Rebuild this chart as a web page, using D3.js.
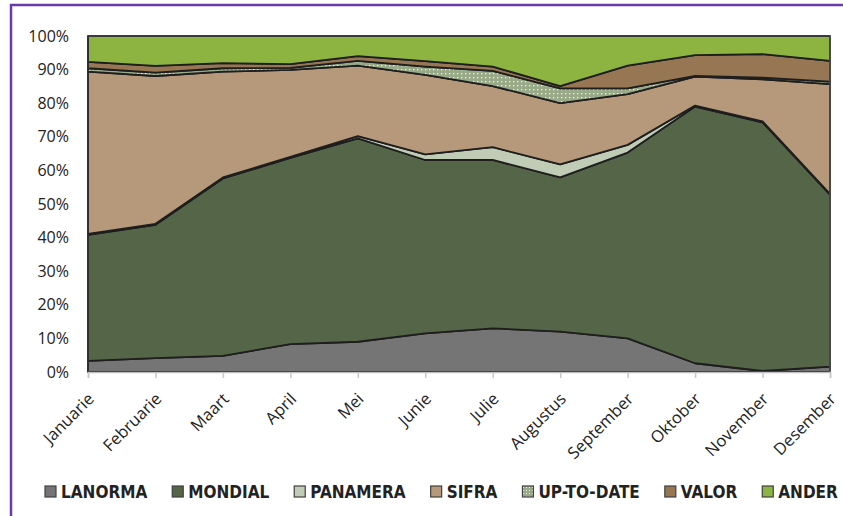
<!DOCTYPE html>
<html><head><meta charset="utf-8">
<script src="https://cdn.jsdelivr.net/npm/d3@7"></script>
<style>
body{margin:0;background:#fff;}
svg{display:block;}
</style></head>
<body>
<svg id="chart" width="843" height="516"></svg>
<script>
const months = ["Januarie","Februarie","Maart","April","Mei","Junie","Julie","Augustus","September","Oktober","November","Desember"];
const seriesNames = ["LANORMA","MONDIAL","PANAMERA","SIFRA","UP-TO-DATE","VALOR","ANDER"];
const lanorma  = [3.3, 4.1, 4.8, 8.3, 9.0, 11.5, 13.0, 12.0, 10.0, 2.6, 0.3, 1.6];
const mondial  = [37.5, 39.7, 52.8, 55.4, 60.5, 51.6, 50.1, 45.9, 55.3, 76.4, 74.0, 51.2];
const panamera = [0.3, 0.3, 0.3, 0.3, 0.7, 1.7, 3.8, 3.9, 2.3, 0.3, 0.3, 0.2];
const sifra    = [48.3, 44.0, 31.5, 25.9, 21.0, 23.6, 18.2, 18.2, 15.1, 8.6, 12.5, 32.7];
const upToDate = [1.0, 1.0, 1.0, 0.6, 1.4, 2.5, 4.5, 4.4, 1.7, 0.2, 0.5, 0.7];
const valor    = [1.9, 2.0, 1.5, 1.1, 1.4, 1.6, 1.3, 0.7, 6.8, 6.2, 7.0, 6.2];
const ander    = [7.7, 8.9, 8.1, 8.4, 6.0, 7.5, 9.1, 14.9, 8.8, 5.7, 5.4, 7.4];
const yTicks = [0,0.1,0.2,0.3,0.4,0.5,0.6,0.7,0.8,0.9,1.0];

const colors = {"LANORMA":"#767576","MONDIAL":"#556548","PANAMERA":"#c0ccb6","SIFRA":"#b5997a","UP-TO-DATE":"url(#dots)","VALOR":"#967653","ANDER":"#8db340"};
const valuesBySeries = [lanorma, mondial, panamera, sifra, upToDate, valor, ander];

// build normalized (100%) table
const table = months.map((m,i)=>{
  const row = {month:m};
  let tot = 0;
  valuesBySeries.forEach(v=>tot+=v[i]);
  seriesNames.forEach((s,k)=>row[s]=valuesBySeries[k][i]/tot);
  return row;
});

const svg = d3.select("#chart");
const defs = svg.append("defs");
const pat = defs.append("pattern").attr("id","dots").attr("patternUnits","userSpaceOnUse").attr("width",4).attr("height",4);
pat.append("rect").attr("width",4).attr("height",4).attr("fill","#98aa88");
pat.append("rect").attr("x",1).attr("y",1).attr("width",1.3).attr("height",1.3).attr("fill","#eef2e6");

const legPat = defs.append("pattern").attr("id","dotsL").attr("patternUnits","userSpaceOnUse").attr("width",3).attr("height",3);
legPat.append("rect").attr("width",3).attr("height",3).attr("fill","#98aa88");
legPat.append("rect").attr("x",1).attr("y",1).attr("width",1).attr("height",1).attr("fill","#eef2e6");

// outer purple frame
svg.append("rect").attr("x",11).attr("y",5).attr("width",900).attr("height",600)
  .attr("fill","none").attr("stroke","#6a3aa8").attr("stroke-width",2.5);

const x = d3.scalePoint().domain(months).range([88,830]);
const y = d3.scaleLinear().domain([0,1]).range([372,36]);

const stack = d3.stack().keys(seriesNames);
const stacked = stack(table);

const area = d3.area()
  .x(d=>x(d.data.month))
  .y0(d=>y(d[0]))
  .y1(d=>y(d[1]));

svg.append("g").selectAll("path").data(stacked).join("path")
  .attr("d",area)
  .attr("fill",d=>colors[d.key])
  .attr("stroke","#1e1e1e")
  .attr("stroke-width",1.8)
  .attr("stroke-linejoin","round");

// plot border lines
svg.append("line").attr("x1",88).attr("x2",830).attr("y1",36).attr("y2",36).attr("stroke","#444").attr("stroke-width",1.5);
svg.append("line").attr("x1",830).attr("x2",830).attr("y1",36).attr("y2",372).attr("stroke","#555").attr("stroke-width",1.3);
svg.append("line").attr("x1",88).attr("x2",88).attr("y1",36).attr("y2",372).attr("stroke","#333").attr("stroke-width",1.3);

// x axis
const xAxis = svg.append("g").attr("transform","translate(0,372)")
  .call(d3.axisBottom(x).tickSize(6).tickFormat(""));
xAxis.select(".domain").attr("stroke","#c0c0c0").attr("stroke-width",1.5);
xAxis.selectAll(".tick line").attr("stroke","#c8c8c8").attr("stroke-width",1.5);

svg.append("g").selectAll("text").data(months).join("text")
  .attr("transform",d=>`translate(${x(d)+7},${400}) rotate(-45)`)
  .attr("text-anchor","end")
  .attr("font-family","'Open Sans', sans-serif")
  .attr("font-size",16.5)
  .attr("fill","#222")
  .text(d=>d);

// y axis labels
const yAxis = svg.append("g").attr("transform","translate(88,0)")
  .call(d3.axisLeft(y).tickValues(yTicks).tickSize(0).tickPadding(19).tickFormat(d3.format(".0%")));
yAxis.select(".domain").remove();
yAxis.selectAll("text").attr("font-family","'Open Sans', sans-serif").attr("font-size",16).attr("fill","#222");

// legend
const leg = svg.append("g");
let lx = 45;
seriesNames.forEach((s)=>{
  leg.append("rect").attr("x",lx).attr("y",486).attr("width",11).attr("height",11)
    .attr("fill", s==="UP-TO-DATE" ? "url(#dotsL)" : colors[s]).attr("stroke","#404040").attr("stroke-width",1.2);
  const t = leg.append("text").attr("x",lx+16).attr("y",498)
    .attr("font-family","'DejaVu Sans Condensed','DejaVu Sans',sans-serif")
    .attr("font-weight","bold").attr("font-stretch","condensed")
    .attr("font-size",17).attr("fill","#222").text(s);
  lx += 16 + t.node().getComputedTextLength() + 25;
});
</script>
</body></html>
